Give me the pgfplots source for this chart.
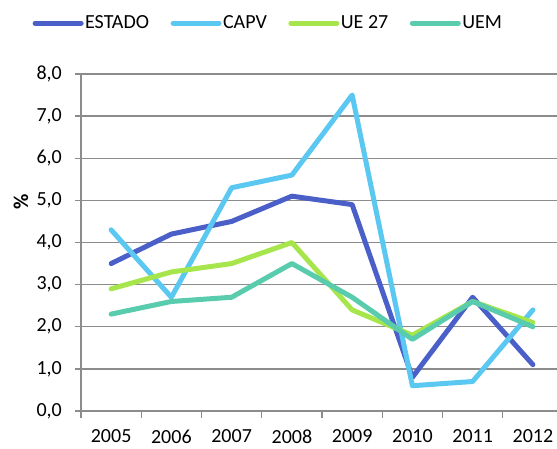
\documentclass[border=0pt]{standalone}
\usepackage{pgfplots}
\pgfplotsset{compat=1.18}
\usepackage{fontspec}
\setmainfont{Carlito}
\definecolor{estado}{RGB}{74,96,200}
\definecolor{capv}{RGB}{90,200,240}
\definecolor{ue}{RGB}{166,230,76}
\definecolor{uem}{RGB}{88,204,172}
\definecolor{gridg}{RGB}{140,140,140}
\begin{document}
\fontsize{20}{24}\selectfont
\begin{tikzpicture}
\useasboundingbox (-81pt,-37pt) rectangle (476pt,411pt);
\begin{axis}[
  at={(0pt,0pt)}, anchor=south west,
  scale only axis, width=476pt, height=337pt,
  xmin=-0.5, xmax=7.4, ymin=0, ymax=8,
  axis x line*=bottom, axis y line*=left,
  axis line style={draw=gridg, line width=1.3pt},
  xtick={0,...,7},
  xticklabels={2005,2006,2007,2008,2009,2010,2011,2012},
  minor xtick={-0.5,0.5,...,6.5},
  major x tick style={draw=none},
  minor tick length=7pt,
  major tick length=6pt,
  tick align=outside,
  tick style={draw=gridg, line width=1.3pt},
  ytick={0,...,8},
  ymajorgrids,
  grid style={draw=gridg, line width=1.3pt},
  yticklabel style={anchor=east, inner sep=0pt, xshift=-13pt},
  xticklabel style={yshift=-6pt},
  /pgf/number format/.cd, fixed, fixed zerofill, precision=1, use comma, assume math mode=true,
  /pgfplots/.cd,
  ticklabel style={font=\fontsize{20}{24}\selectfont},
  ylabel={\textbf{\%}},
  ylabel style={at={(axis description cs:-0.126,0.62)}, anchor=center, font=\fontsize{21}{24}\selectfont},
  legend columns=4,
  legend cell align=left,
  legend image code/.code={\draw[#1, line width=5pt, line cap=round] (2.5pt,0pt) -- (48.5pt,0pt);},
  legend style={at={(axis description cs:0.393,1.151)}, anchor=center, draw=none, fill=none,
    font=\fontsize{20}{24}\selectfont, inner sep=0pt, nodes={inner sep=1.5pt},
    /tikz/every even column/.append style={column sep=20pt}},
  every axis plot/.append style={line width=5pt, line join=round, line cap=round},
]
\addplot[estado] coordinates {(0,3.5) (1,4.2) (2,4.5) (3,5.1) (4,4.9) (5,0.8) (6,2.7) (7,1.1)};
\addlegendentry{ESTADO}
\addplot[capv] coordinates {(0,4.3) (1,2.7) (2,5.3) (3,5.6) (4,7.5) (5,0.6) (6,0.7) (7,2.4)};
\addlegendentry{CAPV}
\addplot[ue] coordinates {(0,2.9) (1,3.3) (2,3.5) (3,4.0) (4,2.4) (5,1.8) (6,2.6) (7,2.1)};
\addlegendentry{UE 27}
\addplot[uem] coordinates {(0,2.3) (1,2.6) (2,2.7) (3,3.5) (4,2.7) (5,1.7) (6,2.6) (7,2.0)};
\addlegendentry{UEM}
\end{axis}
\end{tikzpicture}
\end{document}
